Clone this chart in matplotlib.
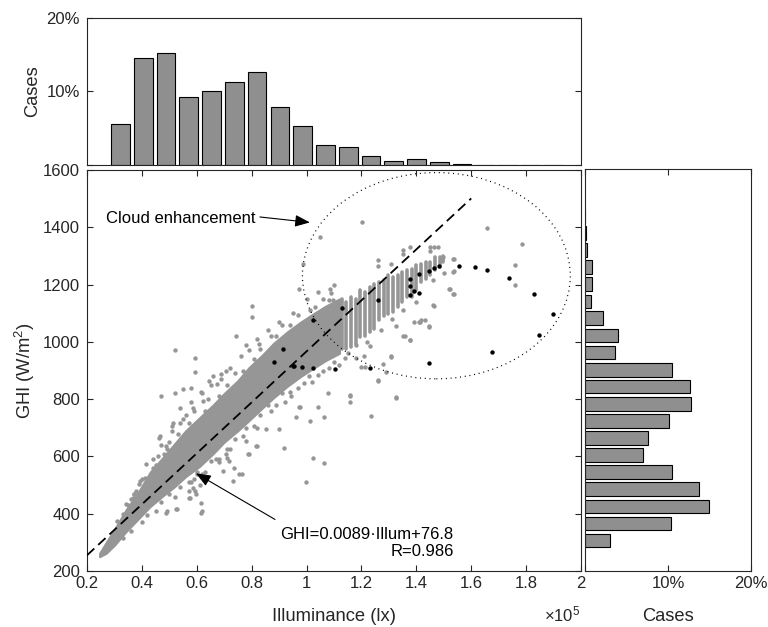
import matplotlib
matplotlib.use('Agg')
import matplotlib.pyplot as plt
from matplotlib.patches import Ellipse
from matplotlib.ticker import FuncFormatter

plt.rcParams['font.family'] = ['Liberation Sans', 'DejaVu Sans']
plt.rcParams['mathtext.fontset'] = 'custom'
plt.rcParams['mathtext.rm'] = 'Liberation Sans'
plt.rcParams['mathtext.it'] = 'Liberation Sans:italic'

# ---------------- data (illuminance in units of 1e5 lx) ----------------
illum_bin_centers = [0.322, 0.405, 0.488, 0.571, 0.654, 0.737, 0.820, 0.903, 0.986, 1.069,
                     1.152, 1.235, 1.318, 1.401, 1.484, 1.567, 1.650, 1.733, 1.816, 1.899]
illum_case_pct = [5.56, 14.5, 15.2, 9.24, 10.1, 11.3, 12.6, 7.85, 5.34, 2.65,
                  2.38, 1.21, 0.49, 0.81, 0.36, 0.13, 0.05, 0.05, 0.05, 0.05]

ghi_bin_centers = [306, 366, 425, 485, 544, 604, 663, 723, 782, 842,
                   901, 961, 1020, 1080, 1139, 1199, 1258, 1318, 1377, 1437]
ghi_case_pct = [3.04, 10.4, 14.9, 13.7, 10.5, 6.97, 7.57, 10.1, 12.76, 12.6,
                10.5, 3.56, 4.01, 2.19, 0.73, 0.85, 0.77, 0.24, 0.05, 0.02]

# dense core of the scatter cloud (envelope)
core_illum = [0.246, 0.27, 0.30, 0.34, 0.39, 0.43, 0.48, 0.52, 0.56, 0.61, 0.66,
              0.70, 0.75, 0.79, 0.84, 0.88, 0.93, 0.98, 1.02, 1.07, 1.12]
core_ghi_low = [250, 262, 290, 335, 385, 425, 465, 495, 530, 565, 610,
                650, 690, 725, 770, 805, 845, 880, 905, 935, 960]
core_ghi_high = [262, 300, 345, 410, 480, 545, 600, 645, 690, 735, 780,
                 820, 865, 910, 955, 995, 1035, 1070, 1095, 1125, 1150]

# striped columns of the cloud at high illuminance
col_illum = [1.128, 1.145, 1.162, 1.179, 1.196, 1.213, 1.230, 1.247, 1.264, 1.281, 1.298, 1.315,
             1.332, 1.349, 1.366, 1.383, 1.400, 1.417, 1.434, 1.451, 1.468, 1.485, 1.497]
col_ghi_low = [975, 976, 981, 993, 1016, 1022, 1034, 1046, 1075, 1092, 1098, 1104,
               1121, 1139, 1157, 1157, 1180, 1209, 1221, 1232, 1250, 1262, 1279]
col_ghi_high = [1150, 1140, 1156, 1151, 1180, 1174, 1191, 1203, 1209, 1215, 1232, 1227,
                1232, 1244, 1250, 1256, 1267, 1273, 1279, 1279, 1297, 1297, 1299]

# individual scattered (grey) points
scatter_illum = [1.202, 1.049, 1.656, 1.784, 1.760, 1.761, 1.536, 1.536, 1.518, 1.536, 0.988, 0.973, 1.262,
                 1.500, 1.463, 1.445, 1.410, 1.393, 1.325, 1.358, 1.309, 1.279, 1.200, 1.291, 1.460,
                 1.085, 1.097, 1.080, 1.012, 1.260, 1.260, 1.309, 1.351, 1.351, 1.376, 1.448, 1.448,
                 1.463, 1.479, 1.497, 1.533, 1.533, 1.524, 1.533, 1.418, 1.430, 1.446, 1.376, 1.309,
                 1.325, 1.157, 1.230, 1.210, 1.180,
                 0.800, 0.800, 0.743, 1.327, 1.233, 1.024, 1.063, 0.997, 1.157, 1.157, 1.079, 1.063,
                 1.042, 0.976, 1.012, 1.260, 1.212, 1.376, 1.412, 1.460, 1.351,
                 0.519, 0.595, 0.595, 0.470, 0.519, 0.579, 0.549, 0.616, 0.464, 0.513, 0.488, 0.559,
                 0.585, 0.622, 0.416, 0.440, 0.379, 0.488, 0.525, 0.616, 0.616, 0.597, 0.573, 0.585,
                 0.682, 0.719, 0.755, 0.737, 0.707, 0.791, 0.816, 0.779, 0.852, 0.900, 0.916, 0.961,
                 0.973, 0.943, 0.791, 0.828, 0.888, 0.688, 0.646, 0.673, 0.707, 0.343, 0.367, 0.391,
                 0.319, 0.331,
                 0.467, 0.509, 0.539, 0.479, 0.394, 0.370, 0.491, 0.527, 0.618, 0.576, 0.594, 0.697,
                 0.733, 0.764, 0.788, 0.818, 0.709,
                 0.36, 0.40, 0.44, 0.47, 0.51, 0.55, 0.58, 0.62, 0.65, 0.69, 0.72, 0.76, 0.82, 0.86,
                 0.90, 0.95, 1.00, 1.04, 1.10, 0.78, 0.66, 0.54,
                 0.45, 0.52, 0.58, 0.63, 0.68, 0.72, 0.77, 0.82, 0.87, 0.92, 0.97, 1.02, 1.06, 1.12,
                 1.15, 1.18, 1.22, 1.27, 1.31, 1.35, 1.40,
                 0.31, 0.33, 0.35, 0.37, 0.41, 0.42, 0.45, 0.46, 0.49, 0.50, 0.53, 0.57, 0.59, 0.63,
                 0.64, 0.68, 0.71, 0.74, 0.77, 0.81, 0.83, 0.87, 0.91, 0.94, 0.97, 1.03, 1.06, 1.09,
                 0.33, 0.36, 0.40, 0.42, 0.47, 0.50, 0.54, 0.57, 0.60, 0.62, 0.65, 0.67, 0.71, 0.74,
                 0.78, 0.81, 0.83, 0.86, 0.89, 0.91, 0.94, 0.99, 1.01, 1.04, 1.08, 1.10, 1.14,
                 0.60, 0.59, 0.61, 0.57]
scatter_ghi = [1420, 1365, 1398, 1342, 1270, 1197, 1291, 1249, 1186, 1166, 1273, 1186, 866,
               1242, 1126, 1053, 1069, 1069, 1057, 1022, 946, 923, 911, 894, 1215,
               1186, 1145, 1145, 1110, 1285, 1265, 1273, 1320, 1305, 1332, 1332, 1318,
               1332, 1332, 1297, 1291, 1244, 1186, 1168, 1075, 1075, 1054, 1007, 952,
               806, 814, 985, 950, 945,
               1124, 1086, 1022, 803, 740, 596, 576, 512, 812, 789, 820, 736,
               771, 771, 725, 865, 911, 1005, 1069, 1127, 1022,
               973, 943, 896, 810, 820, 839, 836, 824, 666, 715, 637, 745,
               769, 795, 573, 561, 480, 404, 415, 404, 439, 468, 456, 491,
               579, 585, 538, 561, 608, 608, 637, 655, 695, 695, 631, 739,
               771, 812, 973, 993, 1022, 888, 865, 853, 900, 433, 456, 503,
               363, 386,
               670, 707, 715, 608, 515, 468, 410, 415, 410, 456, 480, 550,
               515, 538, 608, 637, 596,
               450, 520, 590, 640, 690, 730, 790, 820, 850, 870, 910, 950, 1010, 1040,
               1070, 1100, 1150, 1175, 1200, 990, 880, 770,
               410, 460, 510, 545, 590, 625, 670, 700, 760, 790, 840, 860, 900, 920,
               960, 990, 1000, 1040, 1080, 1110, 1140,
               375, 400, 430, 470, 525, 500, 570, 600, 625, 650, 680, 715, 760, 760,
               800, 810, 850, 890, 900, 940, 975, 1020, 1060, 1060, 1095, 1120, 1150, 1170,
               315, 340, 370, 395, 440, 470, 495, 510, 545, 540, 585, 590, 625, 660,
               700, 705, 745, 780, 780, 820, 825, 855, 880, 885, 910, 930, 945,
               540, 520, 500, 480]

# highlighted (black) points
enh_illum = [1.557, 1.615, 1.656, 1.739, 1.828, 1.897, 1.848, 1.676, 1.445, 1.481, 1.463, 1.445,
             1.410, 1.376, 1.376, 1.393, 1.410, 1.376, 1.262, 1.129, 1.024, 1.230, 1.103, 1.024,
             0.985, 0.955, 0.915, 0.881, 0.951]
enh_ghi = [1264, 1260, 1250, 1223, 1168, 1096, 1023, 964, 927, 1266, 1258, 1247,
           1236, 1219, 1196, 1177, 1170, 1163, 1146, 1118, 1078, 909, 906, 908,
           911, 915, 976, 931, 914]

fit_slope = 0.0089      # W/m2 per lx
fit_intercept = 76.8
fit_range = [0.2, 1.6]  # 1e5 lx

# ---------------- figure ----------------
W, H = 768, 627
fig = plt.figure(figsize=(W / 100, H / 100), dpi=100)

def rect(l, r, t, b):
    return [l / W, 1 - b / H, (r - l) / W, (b - t) / H]

ax = fig.add_axes(rect(87, 581, 170, 571))
ax_top = fig.add_axes(rect(87, 581, 17.7, 165))
ax_right = fig.add_axes(rect(585.3, 750.7, 169, 571))

dark = '#262626'
grey = '#969696'
barc = '#8f8f8f'

for a in (ax, ax_top, ax_right):
    for s in a.spines.values():
        s.set_color(dark)
        s.set_linewidth(0.8)
    a.tick_params(direction='in', length=4, width=0.8, colors=dark, labelsize=12,
                  top=True, right=True)
ax.tick_params(axis='y', pad=5)
ax_top.tick_params(axis='y', pad=5)

# main scatter
ax.fill_between(core_illum, core_ghi_low, core_ghi_high, color=grey, ec=grey, lw=1.5, zorder=1)
ax.vlines(col_illum, col_ghi_low, col_ghi_high, colors=grey, linewidth=2.6,
          capstyle='round', zorder=1)
ax.scatter(scatter_illum, scatter_ghi, s=10, color=grey, lw=0, zorder=2)
ax.scatter(enh_illum, enh_ghi, s=10, color='black', lw=0, zorder=3)

fit_y = [fit_slope * x * 1e5 + fit_intercept for x in fit_range]
ax.plot(fit_range, fit_y, color='black', lw=1.3, ls=(0, (5.5, 3)), zorder=4)

ax.add_patch(Ellipse((1.473, 1231), 0.976, 720, fill=False, ec='black', lw=0.9,
                     ls=(0, (0.8, 3)), zorder=4))

arrow = dict(arrowstyle='-|>,head_length=0.75,head_width=0.3', color='black', lw=0.8,
             shrinkA=0, shrinkB=0, mutation_scale=12)
ax.annotate('', xy=(1.012, 1417), xytext=(0.83, 1436), arrowprops=arrow, zorder=5)
ax.text(0.27, 1431, 'Cloud enhancement', fontsize=12, ha='left', va='center', color='black')
ax.annotate('', xy=(0.597, 541), xytext=(0.885, 380), arrowprops=arrow, zorder=5)
ax.text(1.536, 298, 'GHI=0.0089\u00b7Illum+76.8\nR=0.986', fontsize=12, ha='right',
        va='center', multialignment='right', color='black', linespacing=1.2)

ax.set_xlim(0.2, 2.0)
ax.set_ylim(200, 1600)
ax.set_xticks([0.2, 0.4, 0.6, 0.8, 1.0, 1.2, 1.4, 1.6, 1.8, 2.0])
ax.xaxis.set_major_formatter(FuncFormatter(lambda v, p: f'{v:g}'))
ax.set_yticks([200, 400, 600, 800, 1000, 1200, 1400, 1600])
ax.set_xlabel('Illuminance (lx)', fontsize=13.2, color=dark, labelpad=12)
ax.set_ylabel('GHI (W/m$^2$)', fontsize=13.2, color=dark, labelpad=4)
ax.text(0.998, -0.125, r'$\times10^5$', transform=ax.transAxes, ha='right', va='baseline',
        fontsize=12, color=dark)

# top histogram
ax_top.bar(illum_bin_centers, illum_case_pct, width=0.068, color=barc, edgecolor='black', lw=0.8)
ax_top.set_xlim(0.2, 2.0)
ax_top.set_ylim(0, 20)
ax_top.set_xticks([])
ax_top.set_yticks([0, 10, 20])
ax_top.set_yticklabels(['', '10%', '20%'])
ax_top.set_ylabel('Cases', fontsize=13.2, color=dark, labelpad=4)

# right histogram
ax_right.barh(ghi_bin_centers, ghi_case_pct, height=47.6, color=barc, edgecolor='black', lw=0.8)
ax_right.set_ylim(200, 1600)
ax_right.set_xlim(0, 20)
ax_right.set_yticks([])
ax_right.set_xticks([0, 10, 20])
ax_right.set_xticklabels(['', '10%', '20%'])
ax_right.set_xlabel('Cases', fontsize=13.2, color=dark, labelpad=12)

fig.savefig('out.png', dpi=100)
